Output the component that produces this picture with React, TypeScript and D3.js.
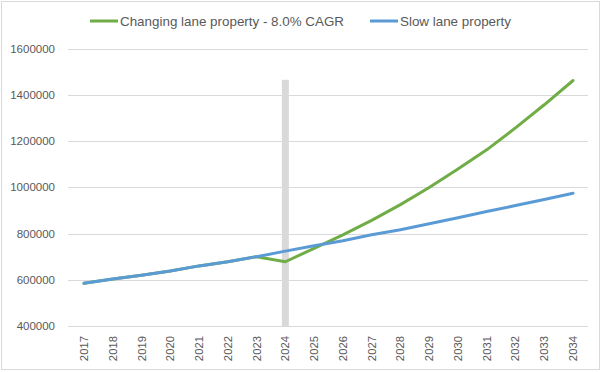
import { useEffect, useRef } from "react";
import * as d3 from "d3";

const years = [
  "2017", "2018", "2019", "2020", "2021", "2022", "2023", "2024", "2025",
  "2026", "2027", "2028", "2029", "2030", "2031", "2032", "2033", "2034",
];

const changingLane = [
  585000, 603000, 620000, 638000, 660000, 678000, 700000, 678000, 736000,
  794000, 857000, 925000, 999000, 1079000, 1162000, 1257000, 1357000, 1462000,
];

const slowLane = [
  585000, 603000, 620000, 638000, 660000, 678000, 700000, 724000, 747000,
  769000, 795000, 816000, 842000, 868000, 895000, 921000, 947000, 974000,
];

// grey marker column at the 2024 break
const markerYear = "2024";
const markerValue = 1465000;

const yTicks = [400000, 600000, 800000, 1000000, 1200000, 1400000, 1600000];

const legendItems = [
  { name: "Changing lane property - 8.0% CAGR", color: "#70AD47" },
  { name: "Slow lane property", color: "#5B9BD5" },
];

const W = 602;
const H = 372;
const FONT = "'Liberation Sans', Arial, sans-serif";
const TEXT = "#595959";

export default function App() {
  const ref = useRef<SVGSVGElement | null>(null);

  useEffect(() => {
    const svg = d3.select(ref.current);
    svg.selectAll("*").remove();

    const plot = { left: 69.6, right: 587.4, top: 48.6, bottom: 326 };

    const x = d3.scaleBand<string>().domain(years).range([plot.left, plot.right]);
    const y = d3.scaleLinear().domain([400000, 1600000]).range([plot.bottom, plot.top]);
    const cx = (yr: string) => (x(yr) ?? 0) + x.bandwidth() / 2;

    // chart frame
    svg
      .append("rect")
      .attr("x", 1.5)
      .attr("y", 1.5)
      .attr("width", 598)
      .attr("height", 368)
      .attr("fill", "#fff")
      .attr("stroke", "#D9D9D9")
      .attr("stroke-width", 1);

    // gridlines
    svg
      .append("g")
      .selectAll("line")
      .data(yTicks)
      .enter()
      .append("line")
      .attr("x1", 68)
      .attr("x2", 588)
      .attr("y1", (d) => Math.round(y(d)) + 0.5)
      .attr("y2", (d) => Math.round(y(d)) + 0.5)
      .attr("stroke", "#D9D9D9")
      .attr("stroke-width", 1);

    // y labels
    svg
      .append("g")
      .selectAll("text")
      .data(yTicks)
      .enter()
      .append("text")
      .attr("x", 55)
      .attr("y", (d) => y(d) + 4)
      .attr("text-anchor", "end")
      .attr("font-family", FONT)
      .attr("font-size", 11.5)
      .attr("fill", TEXT)
      .text((d) => String(d));

    // x labels (rotated)
    svg
      .append("g")
      .selectAll("text")
      .data(years)
      .enter()
      .append("text")
      .attr("transform", (d) => `translate(${cx(d) + 4},336) rotate(-90)`)
      .attr("text-anchor", "end")
      .attr("font-family", FONT)
      .attr("font-size", 11.3)
      .attr("fill", TEXT)
      .text((d) => d);

    // marker column
    svg
      .append("rect")
      .attr("x", cx(markerYear) - 3.5)
      .attr("y", y(markerValue))
      .attr("width", 7)
      .attr("height", plot.bottom - y(markerValue))
      .attr("fill", "#D9D9D9");

    const line = d3
      .line<number>()
      .x((_, i) => cx(years[i]))
      .y((d) => y(d));

    [
      { data: changingLane, color: legendItems[0].color },
      { data: slowLane, color: legendItems[1].color },
    ].forEach((s) => {
      svg
        .append("path")
        .datum(s.data)
        .attr("fill", "none")
        .attr("stroke", s.color)
        .attr("stroke-width", 3)
        .attr("stroke-linejoin", "round")
        .attr("stroke-linecap", "round")
        .attr("d", line);
    });

    // legend
    const legendX = [90, 370];
    legendItems.forEach((item, i) => {
      const row = svg.append("g").attr("transform", `translate(${legendX[i]},21)`);
      row
        .append("line")
        .attr("x1", 0)
        .attr("x2", 28)
        .attr("y1", 0)
        .attr("y2", 0)
        .attr("stroke", item.color)
        .attr("stroke-width", 3);
      row
        .append("text")
        .attr("x", 30)
        .attr("y", 5)
        .attr("font-family", FONT)
        .attr("font-size", 13.4)
        .attr("fill", TEXT)
        .text(item.name);
    });
  }, []);

  return (
    <div style={{ position: "absolute", left: 0, top: 0 }}>
      <svg ref={ref} width={W} height={H} style={{ display: "block" }} />
    </div>
  );
}
